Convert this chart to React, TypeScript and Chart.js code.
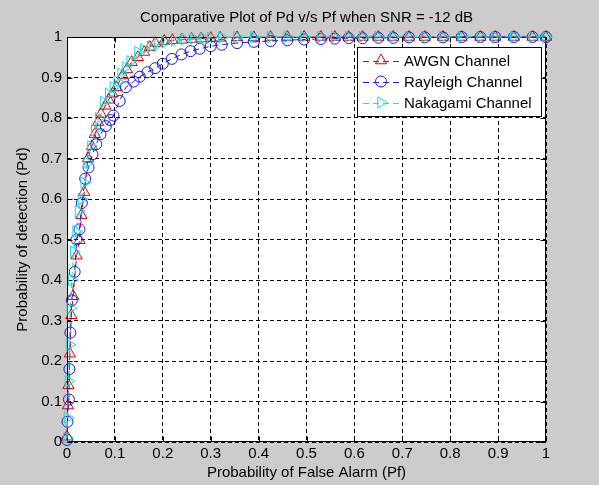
import React, { useEffect, useRef } from "react";
import { Chart, registerables } from "chart.js";

Chart.register(...registerables);

const TITLE = "Comparative Plot of Pd v/s Pf when SNR = -12 dB";
const X_LABEL = "Probability of False Alarm (Pf)";
const Y_LABEL = "Probability of detection (Pd)";
const SERIES_NAMES = ["AWGN Channel", "Rayleigh Channel", "Nakagami Channel"];
const TICKS = [0, 0.1, 0.2, 0.3, 0.4, 0.5, 0.6, 0.7, 0.8, 0.9, 1];

const awgnPf = [0, 0.002, 0.003, 0.006, 0.009, 0.013, 0.02, 0.026, 0.03, 0.036, 0.044, 0.052, 0.058, 0.065, 0.071, 0.08, 0.087, 0.095, 0.103, 0.116, 0.125, 0.135, 0.148, 0.161, 0.173, 0.184, 0.203, 0.22, 0.24, 0.26, 0.28, 0.3, 0.32, 0.355, 0.39, 0.425, 0.46, 0.495, 0.53, 0.559, 0.588, 0.617, 0.65, 0.681, 0.714, 0.747, 0.785, 0.824, 0.863, 0.894, 0.933, 0.972, 1.0];
const awgnPd = [0.013, 0.09, 0.14, 0.218, 0.313, 0.36, 0.46, 0.498, 0.56, 0.617, 0.7, 0.73, 0.76, 0.79, 0.81, 0.83, 0.845, 0.86, 0.876, 0.905, 0.92, 0.938, 0.95, 0.963, 0.975, 0.985, 0.99, 0.992, 0.993, 0.995, 0.996, 0.997, 0.998, 0.999, 0.999, 1, 1, 1, 1, 1, 1, 1, 1, 1, 1, 1, 1, 1, 1, 1, 1, 1, 1];

const rayleighPf = [0, 0.001, 0.004, 0.005, 0.007, 0.01, 0.016, 0.02, 0.026, 0.031, 0.038, 0.045, 0.053, 0.061, 0.07, 0.081, 0.09, 0.097, 0.11, 0.123, 0.139, 0.152, 0.168, 0.184, 0.2, 0.219, 0.239, 0.258, 0.277, 0.3, 0.323, 0.355, 0.39, 0.425, 0.46, 0.495, 0.53, 0.559, 0.588, 0.617, 0.65, 0.681, 0.714, 0.747, 0.785, 0.824, 0.863, 0.894, 0.933, 0.972, 1.0];
const rayleighPd = [0.005, 0.05, 0.105, 0.18, 0.27, 0.35, 0.42, 0.5, 0.525, 0.59, 0.65, 0.678, 0.71, 0.735, 0.76, 0.78, 0.795, 0.806, 0.842, 0.876, 0.89, 0.902, 0.913, 0.923, 0.934, 0.946, 0.957, 0.965, 0.971, 0.977, 0.981, 0.985, 0.988, 0.99, 0.992, 0.994, 0.995, 0.996, 0.997, 0.997, 0.998, 0.998, 0.999, 0.999, 0.999, 1, 1, 1, 1, 1, 1];

const nakagamiPf = [0, 0.001, 0.003, 0.005, 0.007, 0.01, 0.014, 0.019, 0.024, 0.03, 0.036, 0.042, 0.05, 0.058, 0.066, 0.077, 0.087, 0.097, 0.105, 0.113, 0.122, 0.132, 0.148, 0.16, 0.175, 0.19, 0.205, 0.225, 0.245, 0.265, 0.285, 0.3, 0.323, 0.355, 0.39, 0.425, 0.46, 0.495, 0.53, 0.559, 0.588, 0.617, 0.65, 0.681, 0.714, 0.747, 0.785, 0.824, 0.863, 0.894, 0.933, 0.972, 1.0];
const nakagamiPd = [0.01, 0.06, 0.15, 0.24, 0.33, 0.4, 0.47, 0.52, 0.57, 0.6, 0.64, 0.69, 0.73, 0.77, 0.8, 0.84, 0.86, 0.876, 0.89, 0.909, 0.925, 0.94, 0.963, 0.97, 0.976, 0.982, 0.987, 0.991, 0.994, 0.996, 0.997, 0.998, 0.999, 1, 1, 1, 1, 1, 1, 1, 1, 1, 1, 1, 1, 1, 1, 1, 1, 1, 1, 1, 1];

const FONT = "'Liberation Sans', Arial, Helvetica, sans-serif";
const FONT_SIZE = 15;
const BG = "#cccccc";
const COLORS = ["#e00000", "#1c1cd0", "#10e0e0"];
const STYLES = ["triangle", "circle", "triangle"];
const ROTATIONS = [0, 0, 90];
const RADII = [6.5, 5.5, 6.5];
const DASH = [6, 4];

function toPoints(xs: number[], ys: number[]) {
  return xs.map((x, i) => ({ x, y: ys[i] }));
}

function drawMarker(ctx: CanvasRenderingContext2D, style: string, x: number, y: number, r: number, rotation: number) {
  ctx.beginPath();
  if (style === "circle") {
    ctx.arc(x, y, r, 0, Math.PI * 2);
  } else {
    let rad = (rotation * Math.PI) / 180;
    const step = (2 * Math.PI) / 3;
    ctx.moveTo(x + Math.sin(rad) * r, y - Math.cos(rad) * r);
    rad += step;
    ctx.lineTo(x + Math.sin(rad) * r, y - Math.cos(rad) * r);
    rad += step;
    ctx.lineTo(x + Math.sin(rad) * r, y - Math.cos(rad) * r);
    ctx.closePath();
  }
  ctx.stroke();
}

const framePlugin = {
  id: "matlabFrame",
  beforeDraw(chart: any) {
    const { ctx, width, height, chartArea: a } = chart;
    ctx.save();
    ctx.fillStyle = BG;
    ctx.fillRect(0, 0, width, height);
    ctx.fillStyle = "#ffffff";
    ctx.fillRect(a.left, a.top, a.right - a.left, a.bottom - a.top);
    ctx.restore();
  },
  beforeDatasetsDraw(chart: any) {
    const { ctx, chartArea: a, scales } = chart;
    const L = Math.round(a.left) + 0.5;
    const R = Math.round(a.right) - 0.5;
    const T = Math.round(a.top) + 0.5;
    const B = Math.round(a.bottom) - 0.5;
    ctx.save();
    ctx.strokeStyle = "#000";
    ctx.lineWidth = 1;
    ctx.setLineDash([]);
    ctx.strokeRect(L, T, R - L, B - T);
    const tl = 5;
    ctx.beginPath();
    TICKS.forEach((v) => {
      const px = Math.round(scales.x.getPixelForValue(v)) + 0.5;
      ctx.moveTo(px, B);
      ctx.lineTo(px, B - tl);
      ctx.moveTo(px, T);
      ctx.lineTo(px, T + tl);
      const py = Math.round(scales.y.getPixelForValue(v)) + 0.5;
      ctx.moveTo(L, py);
      ctx.lineTo(L + tl, py);
      ctx.moveTo(R, py);
      ctx.lineTo(R - tl, py);
    });
    ctx.stroke();
    ctx.restore();
  },
  afterDraw(chart: any) {
    const { ctx, chartArea: a } = chart;
    const w = 184;
    const h = 69;
    const x0 = Math.round(a.right) - 5 - w;
    const y0 = Math.round(a.top) + 10;
    ctx.save();
    ctx.fillStyle = "#ffffff";
    ctx.fillRect(x0, y0, w, h);
    ctx.strokeStyle = "#000";
    ctx.lineWidth = 1;
    ctx.strokeRect(x0 + 0.5, y0 + 0.5, w, h);
    ctx.font = `${FONT_SIZE}px ${FONT}`;
    ctx.textBaseline = "middle";
    ctx.textAlign = "left";
    SERIES_NAMES.forEach((name, i) => {
      const cy = y0 + 13.5 + i * 21;
      ctx.strokeStyle = COLORS[i];
      ctx.lineWidth = 1;
      ctx.setLineDash(DASH);
      ctx.beginPath();
      ctx.moveTo(x0 + 6, Math.round(cy) + 0.5);
      ctx.lineTo(x0 + 43, Math.round(cy) + 0.5);
      ctx.stroke();
      ctx.setLineDash([]);
      drawMarker(ctx, STYLES[i], x0 + 24, cy, RADII[i], ROTATIONS[i]);
      ctx.fillStyle = "#000";
      ctx.fillText(name, x0 + 47, cy + 1);
    });
    ctx.restore();
  },
};

export default function App() {
  const ref = useRef<HTMLCanvasElement | null>(null);
  useEffect(() => {
    if (!ref.current) return;
    const series = [
      toPoints(awgnPf, awgnPd),
      toPoints(rayleighPf, rayleighPd),
      toPoints(nakagamiPf, nakagamiPd),
    ];
    const font = { family: FONT, size: FONT_SIZE, weight: "normal" as const };
    const chart = new Chart(ref.current, {
      type: "line",
      data: {
        datasets: series.map((data, i) => ({
          label: SERIES_NAMES[i],
          data,
          borderColor: COLORS[i],
          backgroundColor: "rgba(0,0,0,0)",
          borderWidth: 1,
          borderDash: DASH,
          tension: 0,
          pointStyle: STYLES[i] as any,
          pointRotation: ROTATIONS[i],
          pointRadius: RADII[i],
          pointBorderWidth: 1,
          pointBorderColor: COLORS[i],
          pointBackgroundColor: "rgba(0,0,0,0)",
          clip: false as any,
          order: 3 - i,
        })),
      },
      options: {
        animation: false,
        responsive: false,
        maintainAspectRatio: false,
        events: [],
        layout: { padding: { left: 0, right: 53, top: 0, bottom: 0 } },
        plugins: {
          legend: { display: false },
          tooltip: { enabled: false },
          title: {
            display: true,
            text: TITLE,
            color: "#000",
            fullSize: false,
            font,
            padding: { top: 9, bottom: 10 },
          },
        },
        scales: {
          x: {
            type: "linear",
            min: 0,
            max: 1,
            afterFit: (s: any) => {
              s.height = 43;
            },
            ticks: {
              stepSize: 0.1,
              color: "#000",
              font,
              padding: 3,
              maxRotation: 0,
              autoSkip: false,
              callback: (v: any) => String(Number(Number(v).toFixed(1))),
            },
            grid: {
              color: "#000",
              lineWidth: 1,
              drawTicks: false,
            },
            border: { display: false, dash: [4, 3] },
            title: { display: true, text: X_LABEL, color: "#000", font, padding: { top: 0, bottom: 3 } },
          },
          y: {
            type: "linear",
            min: 0,
            max: 1,
            afterFit: (s: any) => {
              s.width = 67;
            },
            ticks: {
              stepSize: 0.1,
              color: "#000",
              font,
              padding: 5,
              autoSkip: false,
              callback: (v: any) => String(Number(Number(v).toFixed(1))),
            },
            grid: {
              color: "#000",
              lineWidth: 1,
              drawTicks: false,
            },
            border: { display: false, dash: [4, 3] },
            title: { display: true, text: Y_LABEL, color: "#000", font, padding: { top: 14, bottom: 0 } },
          },
        },
      },
      plugins: [framePlugin],
    } as any);
    return () => chart.destroy();
  }, []);
  return (
    <div style={{ position: "absolute", left: 0, top: 0, width: 599, height: 485 }}>
      <canvas ref={ref} width={599} height={485} style={{ display: "block" }} />
    </div>
  );
}
